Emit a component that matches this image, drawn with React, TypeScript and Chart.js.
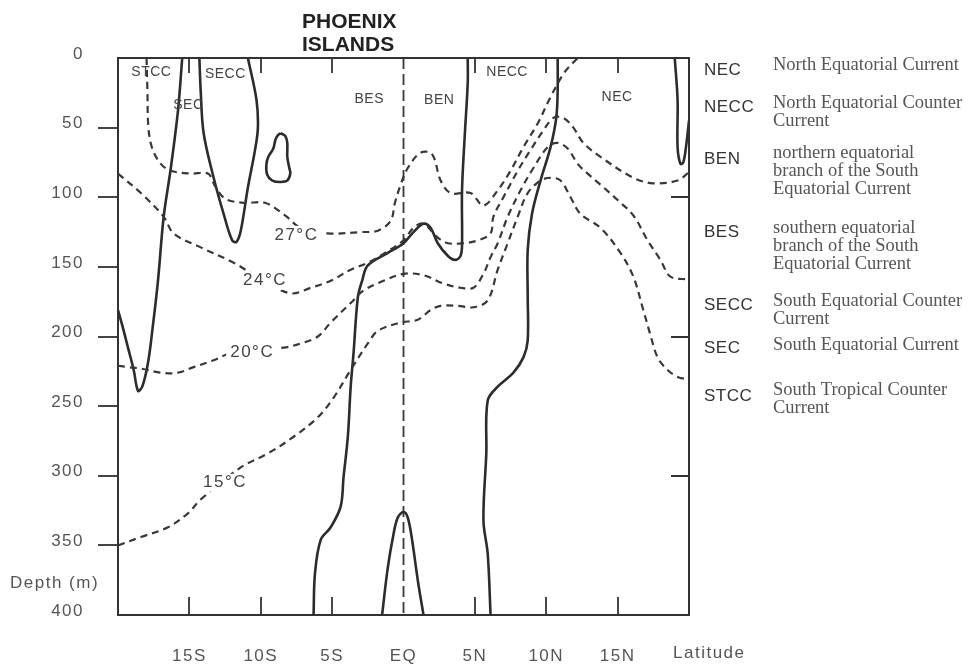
import React, { useEffect, useRef } from 'react';
import { Chart, registerables } from 'chart.js';

Chart.register(...registerables);

// ---- axis ticks ----
const depthTicks = [0, 50, 100, 150, 200, 250, 300, 350, 400];
const latTicks = [-15, -10, -5, 0, 5, 10, 15];
const latLabels = ['15S', '10S', '5S', 'EQ', '5N', '10N', '15N'];
const innerLatTicks = [-15, -10, -5, 5, 10, 15];
const rightDepthTicks = [100, 200, 300];

// ---- isotherms (dashed) ----
const iso27Lat = [-18.0, -17.94, -17.87, -17.6, -17.0, -16.3, -14.9, -13.7, -13.2, -12.5, -11.2, -9.7, -8.3, -7.2, -5.3, -3.0, -1.8, -0.9, -0.6, -0.2, 0.3, 1.2, 2.0, 2.6, 3.3, 4.7, 5.6, 6.6, 7.5, 8.4, 9.4, 10.3, 11.3, 12.2];
const iso27Depth = [0, 23, 50, 65, 76, 81, 83, 83, 92, 101, 104, 104, 113, 122, 126, 125, 124, 117, 104, 91, 79, 68, 69, 88, 97, 97, 106, 95, 81, 64, 47, 28, 10, 0];

const iso24Lat = [-20, -18.4, -16.8, -16.1, -14.2, -11.9, -9.8, -7.9, -6.5, -5.1, -3.7, -2.5, -1.3, 0.0, 0.7, 1.4, 2.4, 3.1, 4.2, 5.2, 6.1, 6.3, 7.0, 8.0, 8.9, 9.8, 10.5, 11.2, 11.9, 12.6, 13.8, 16.1, 17.5, 19.2, 20];
const iso24Depth = [83, 97, 114, 126, 136, 147, 160, 169, 165, 160, 152, 147, 140, 131, 122, 119, 129, 133, 133, 131, 126, 114, 100, 81, 66, 52, 43, 43, 50, 61, 71, 86, 90, 88, 82];

const iso20Lat = [-20, -19.3, -18.4, -17.0, -15.8, -14.7, -13.3, -11.8, -8.4, -7.2, -6.0, -5.1, -3.7, -2.8, -1.4, 0.0, 1.4, 2.8, 4.0, 4.9, 5.6, 6.1, 6.6, 7.3, 8.2, 9.1, 10.1, 10.8, 11.5, 12.2, 12.9, 13.8, 15.0, 16.1, 17.1, 18.0, 18.7, 20];
const iso20Depth = [221, 222, 223, 226, 226, 222, 217, 211, 208, 205, 200, 190, 176, 167, 160, 155, 156, 162, 165, 165, 155, 143, 133, 114, 95, 79, 64, 61, 65, 76, 83, 91, 102, 113, 131, 145, 157, 159];

const iso15Lat = [-20, -18.4, -16.5, -15.1, -14.2, -11.4, -9.5, -7.7, -6.0, -4.9, -3.7, -2.5, -1.8, -0.2, 1.0, 1.9, 2.6, 3.8, 4.9, 5.9, 6.6, 7.3, 8.0, 8.7, 9.6, 10.3, 11.0, 11.7, 12.4, 13.8, 15.2, 16.1, 16.8, 17.3, 17.8, 18.5, 19.2, 20];
const iso15Depth = [350, 344, 337, 327, 317, 294, 284, 272, 258, 244, 224, 205, 196, 190, 188, 181, 178, 178, 179, 174, 152, 133, 114, 97, 88, 86, 88, 100, 112, 122, 140, 157, 181, 199, 215, 224, 229, 231];

// ---- current boundaries (solid) ----
const zeroALat = [-20, -19.7, -19.3, -18.9, -18.6, -18.3, -17.9, -17.6, -17.2, -16.8, -16.3, -15.8, -15.5];
const zeroADepth = [181, 192, 208, 224, 239, 236, 219, 196, 160, 114, 79, 38, 0];

const zeroBLat = [-14.3, -14.2, -14.0, -13.3, -12.6, -12.0, -11.7, -11.4, -10.9, -10.4, -10.2, -10.3, -10.9];
const zeroBDepth = [0, 25, 54, 86, 112, 131, 132, 124, 93, 66, 50, 30, 0];

const loopLat = [-8.63, -8.28, -8.14, -8.14, -8.0, -7.93, -8.14, -8.63, -9.19, -9.54, -9.61, -9.47, -9.12, -8.98, -8.84, -8.63];
const loopDepth = [54, 56, 61, 71, 79, 83, 88, 89, 88, 84, 77, 71, 65, 59, 56, 54];

const zeroDLat = [-6.3, -6.2, -5.8, -5.1, -4.4, -4.2, -3.9, -3.7, -3.5, -3.2, -2.9, -2.5, -1.1, 0.0, 0.7, 1.4, 1.9, 2.4, 3.1, 3.6, 4.0, 4.1, 4.1, 4.3, 4.5, 4.5];
const zeroDDepth = [400, 370, 346, 337, 322, 301, 272, 236, 212, 172, 160, 149, 140, 133, 125, 119, 122, 133, 142, 145, 142, 133, 95, 54, 18, 0];

const domeLat = [-1.5, -1.1, -0.7, -0.4, 0.0, 0.3, 0.6, 1.0, 1.4];
const domeDepth = [400, 366, 342, 330, 326, 330, 346, 375, 400];

const zeroFLat = [6.1, 5.9, 5.6, 5.8, 5.9, 6.6, 7.7, 8.4, 8.7, 8.7, 8.7, 9.0, 9.6, 10.3, 10.7, 10.8, 10.8];
const zeroFDepth = [400, 356, 332, 284, 246, 236, 226, 215, 203, 170, 138, 112, 88, 64, 43, 23, 0];

const zeroGLat = [19.0, 19.2, 19.2, 19.4, 19.6, 19.8, 20];
const zeroGDepth = [0, 30, 64, 76, 75, 63, 45];

const eqLat = [0, 0];
const eqDepth = [0, 400];

// ---- labels ----
const isoNames = ['27°C', '24°C', '20°C', '15°C'];
const isoLabelLat = [-7.5, -9.7, -10.6, -12.5];
const isoLabelDepth = [127, 160, 211, 305];

const regionNames = ['STCC', 'SEC', 'SECC', 'BES', 'BEN', 'NECC', 'NEC'];
const regionLat = [-17.66, -15.07, -12.48, -2.4, 2.5, 7.26, 14.96];
const regionDepth = [10.4, 34, 11.8, 29.8, 30.5, 10.4, 28.3];

const legendCodes = ['NEC', 'NECC', 'BEN', 'BES', 'SECC', 'SEC', 'STCC'];
const legendText = [
  ['North Equatorial Current'],
  ['North Equatorial Counter', 'Current'],
  ['northern equatorial', 'branch of the South', 'Equatorial Current'],
  ['southern equatorial', 'branch of the South', 'Equatorial Current'],
  ['South Equatorial Counter', 'Current'],
  ['South Equatorial Current'],
  ['South Tropical Counter', 'Current'],
];

const zip = (lat: number[], depth: number[]) => lat.map((x, i) => ({ x, y: depth[i] }));

const SANS = '"Liberation Sans", Arial, sans-serif';
const SERIF = '"Liberation Serif", "Times New Roman", serif';

const decor = {
  id: 'decor',
  beforeDraw(chart: any) {
    const { ctx } = chart;
    ctx.save();
    ctx.fillStyle = '#ffffff';
    ctx.fillRect(0, 0, chart.width, chart.height);
    ctx.restore();
    ctx.letterSpacing = '1.5px';
  },
  afterDatasetsDraw(chart: any) {
    const { ctx } = chart;
    const x = chart.scales.x;
    const y = chart.scales.y;
    ctx.save();
    ctx.textAlign = 'center';
    ctx.textBaseline = 'middle';
    ctx.font = `17px ${SANS}`;
    ctx.letterSpacing = '1.5px';
    isoNames.forEach((t, i) => {
      const px = x.getPixelForValue(isoLabelLat[i]);
      const py = y.getPixelForValue(isoLabelDepth[i]);
      const w = ctx.measureText(t).width;
      ctx.fillStyle = '#ffffff';
      ctx.fillRect(px - w / 2 - 4, py - 9, w + 8, 18);
      ctx.fillStyle = '#444';
      ctx.fillText(t, px, py);
    });
    ctx.font = `14px ${SANS}`;
    ctx.letterSpacing = '0.5px';
    ctx.fillStyle = '#444';
    regionNames.forEach((t, i) => {
      ctx.fillText(t, x.getPixelForValue(regionLat[i]), y.getPixelForValue(regionDepth[i]));
    });
    ctx.restore();
  },
  afterDraw(chart: any) {
    const { ctx, chartArea: a } = chart;
    const x = chart.scales.x;
    const y = chart.scales.y;
    ctx.save();
    ctx.strokeStyle = '#333';
    ctx.lineWidth = 2;
    ctx.beginPath();
    ctx.moveTo(a.left, a.top);
    ctx.lineTo(a.right, a.top);
    ctx.lineTo(a.right, a.bottom);
    ctx.stroke();
    ctx.lineWidth = 1.8;
    ctx.beginPath();
    innerLatTicks.forEach((v) => {
      const px = Math.round(x.getPixelForValue(v));
      ctx.moveTo(px, a.bottom);
      ctx.lineTo(px, a.bottom - 18);
      ctx.moveTo(px, a.top);
      ctx.lineTo(px, a.top + 15);
    });
    rightDepthTicks.forEach((v) => {
      const py = Math.round(y.getPixelForValue(v));
      ctx.moveTo(a.right, py);
      ctx.lineTo(a.right - 18, py);
    });
    ctx.stroke();

    // axis texts
    ctx.fillStyle = '#555';
    ctx.font = `17px ${SANS}`;
    ctx.letterSpacing = '1.5px';
    ctx.textBaseline = 'middle';
    ctx.textAlign = 'left';
    ctx.fillText('Depth (m)', 10, y.getPixelForValue(377));
    ctx.fillText('Latitude', a.right - 16, a.bottom + 38);

    // title
    ctx.fillStyle = '#222';
    ctx.letterSpacing = '0px';
    ctx.font = `bold 21px ${SANS}`;
    ctx.fillText('PHOENIX', 302, 22);
    ctx.fillText('ISLANDS', 302, 45);

    // legend
    const codeY = [70, 107, 159, 232, 305, 348, 396];
    const textY = [65, 103, 153, 228, 301, 345, 390];
    legendCodes.forEach((c, i) => {
      ctx.fillStyle = '#333';
      ctx.font = `17px ${SANS}`;
      ctx.letterSpacing = '0.5px';
      ctx.fillText(c, 704, codeY[i]);
      ctx.fillStyle = '#555';
      ctx.font = `18.5px ${SERIF}`;
      ctx.letterSpacing = '0px';
      legendText[i].forEach((line, j) => {
        ctx.fillText(line, 773, textY[i] + j * 18);
      });
    });
    ctx.restore();
    ctx.letterSpacing = '0px';
  },
};

export default function App() {
  const ref = useRef<HTMLCanvasElement>(null);
  useEffect(() => {
    document.body.style.margin = '0';
    const canvas = ref.current;
    if (!canvas) return;
    const iso = (lat: number[], dep: number[]) => ({
      data: zip(lat, dep),
      showLine: true,
      borderColor: '#383838',
      borderWidth: 2.2,
      borderDash: [7, 5],
      pointRadius: 0,
      tension: 0.35,
      fill: false,
    });
    const solid = (lat: number[], dep: number[]) => ({
      data: zip(lat, dep),
      showLine: true,
      borderColor: '#2c2c2c',
      borderWidth: 2.6,
      borderDash: [],
      pointRadius: 0,
      tension: 0.35,
      fill: false,
    });
    const chart = new Chart(canvas, {
      type: 'scatter',
      data: {
        datasets: [
          iso(iso27Lat, iso27Depth),
          iso(iso24Lat, iso24Depth),
          iso(iso20Lat, iso20Depth),
          iso(iso15Lat, iso15Depth),
          solid(zeroALat, zeroADepth),
          solid(zeroBLat, zeroBDepth),
          solid(loopLat, loopDepth),
          solid(zeroDLat, zeroDDepth),
          solid(domeLat, domeDepth),
          solid(zeroFLat, zeroFDepth),
          solid(zeroGLat, zeroGDepth),
          { ...iso(eqLat, eqDepth), borderDash: [11, 5], borderWidth: 1.8, tension: 0 },
        ],
      } as any,
      options: {
        responsive: false,
        animation: false,
        layout: { padding: { left: 0, top: 58, right: 281, bottom: 0 } },
        plugins: { legend: { display: false }, tooltip: { enabled: false } },
        scales: {
          x: {
            type: 'linear',
            position: 'bottom',
            min: -20,
            max: 20,
            afterBuildTicks: (s: any) => {
              s.ticks = latTicks.map((v) => ({ value: v }));
            },
            afterFit: (s: any) => {
              s.height = 49;
            },
            grid: { display: false },
            border: { display: true, color: '#333', width: 2 },
            ticks: {
              callback: (v: any) => {
                const i = latTicks.indexOf(Number(v));
                return i >= 0 ? latLabels[i] : '';
              },
              font: { family: SANS, size: 17 },
              color: '#555',
              padding: 23,
              maxRotation: 0,
              autoSkip: false,
            },
          },
          y: {
            type: 'linear',
            reverse: true,
            min: 0,
            max: 400,
            afterBuildTicks: (s: any) => {
              s.ticks = depthTicks.map((v) => ({ value: v }));
            },
            afterFit: (s: any) => {
              s.width = 118;
            },
            grid: {
              display: true,
              drawOnChartArea: false,
              drawTicks: true,
              tickLength: 20,
              lineWidth: 2,
              color: (c: any) =>
                c.tick && (c.tick.value === 0 || c.tick.value === 400) ? 'rgba(0,0,0,0)' : '#444',
            },
            border: { display: true, color: '#333', width: 2 },
            ticks: {
              font: { family: SANS, size: 17 },
              color: '#555',
              padding: 14,
              labelOffset: -4,
            },
          },
        },
      } as any,
      plugins: [decor],
    });
    return () => chart.destroy();
  }, []);
  return (
    <div style={{ position: 'absolute', left: 0, top: 0, width: 970, height: 664 }}>
      <canvas ref={ref} width={970} height={664} style={{ display: 'block', width: 970, height: 664 }} />
    </div>
  );
}
